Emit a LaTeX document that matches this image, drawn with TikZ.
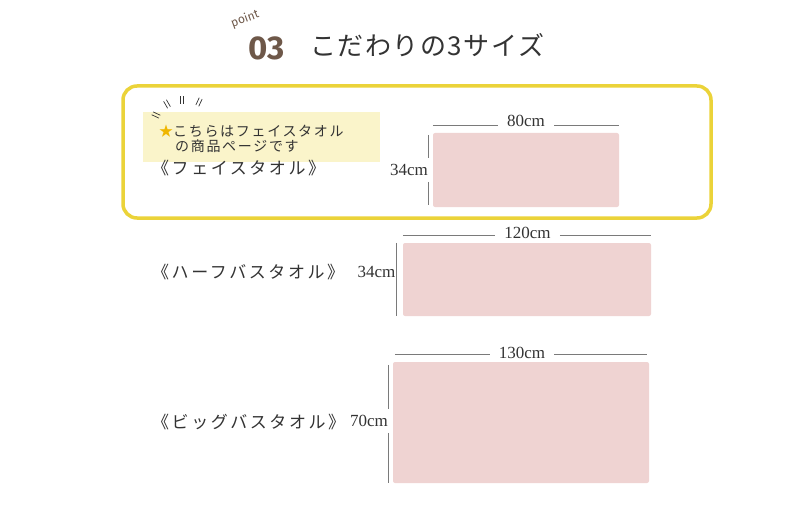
\documentclass[tikz,border=0pt]{standalone}
\usepackage{fontspec}
\setmainfont{Liberation Serif}
\newfontfamily\jpfont[LetterSpace=15]{Noto Sans CJK JP}
\newfontfamily\jpnote[LetterSpace=12]{Noto Sans CJK JP}
\newfontfamily\titlefont[LetterSpace=6]{Noto Sans CJK JP}
\newfontfamily\numfont{Fira Sans}
\usetikzlibrary{positioning}

\definecolor{ptbrown}{HTML}{6E5849}
\definecolor{frameyellow}{HTML}{EBD339}
\definecolor{notebg}{HTML}{FAF4CA}
\definecolor{towelpink}{HTML}{EFD3D2}
\definecolor{stargold}{HTML}{EFB600}
\definecolor{inkgray}{HTML}{333333}
\definecolor{dimgray}{HTML}{7A7A7A}

\tikzset{
  towel/.style={fill=towelpink, rounded corners=2pt, inner sep=0pt},
  rowname/.style={font=\jpfont\fontsize{17}{19}\selectfont, text=inkgray, anchor=west, inner sep=0pt},
  notetext/.style={font=\jpnote\fontsize{14}{16}\selectfont, text=inkgray, anchor=west, inner sep=0pt},
  widthtext/.style={font=\fontsize{17}{18}\selectfont, text=inkgray, inner xsep=9pt, inner ysep=0pt},
  heighttext/.style={font=\fontsize{17}{18}\selectfont, text=inkgray, anchor=east, inner xsep=0pt, inner ysep=6pt},
  dimline/.style={draw=dimgray, line width=0.6pt},
  tickline/.style={draw=inkgray, line width=0.7pt},
}

\begin{document}
\begin{tikzpicture}[x=1pt,y=-1pt]
  \useasboundingbox (0,0) rectangle (801,516);

  % title
  \node[font=\numfont\fontsize{12}{14}\selectfont, text=ptbrown, rotate=20, inner sep=0pt] (pointword) at (245,19) {point};
  \node[font=\numfont\bfseries\fontsize{33}{36}\selectfont, text=ptbrown, inner sep=0pt] (num) at (266.5,48.5) {03};
  \node[font=\titlefont\fontsize{26}{30}\selectfont, text=inkgray, anchor=west, inner sep=0pt] (title) at (310,45) {こだわりの3サイズ};

  % face towel frame and note
  \node[draw=frameyellow, line width=3.5pt, rounded corners=14pt, minimum width=588pt, minimum height=132pt] (faceframe) at (417,152) {};
  \node[fill=notebg, inner sep=0pt, minimum width=237pt, minimum height=50pt] (note) at (261.5,137) {};
  \node[notetext] (notetop) at (159,131) {\textcolor{stargold}{★}こちらはフェイスタオル};
  \node[notetext] (notebottom) at (175,146) {の商品ページです};
  \foreach \cx/\cy/\ang in {156/115/-25, 167/104/-60, 182/100/90, 199/102/65}
    \draw[tickline, shift={(\cx,\cy)}, rotate=\ang] (-4,-1.6) -- (4,-1.6) (-4,1.6) -- (4,1.6);

  % towels
  \node[towel, minimum width=186pt, minimum height=74pt] (face) at (526,170) {};
  \node[towel, minimum width=248pt, minimum height=73pt] (half) at (527,279.5) {};
  \node[towel, minimum width=256pt, minimum height=121pt] (big) at (521,422.5) {};

  % names
  \node[rowname] (facename) at (152,168) {《フェイスタオル》};
  \node[rowname] (halfname) at (152,272) {《ハーフバスタオル》};
  \node[rowname] (bigname) at (152,422) {《ビッグバスタオル》};

  % widths
  \node[widthtext] (facew) at (526,121) {80cm};
  \node[widthtext] (halfw) at (527.5,232.5) {120cm};
  \node[widthtext] (bigw) at (522,352.5) {130cm};
  \coordinate (facewl) at ([yshift=7pt]face.north west);
  \coordinate (facewr) at ([yshift=7pt]face.north east);
  \coordinate (halfwl) at ([yshift=8pt]half.north west);
  \coordinate (halfwr) at ([yshift=8pt]half.north east);
  \coordinate (bigwl) at ([shift={(2pt,8pt)}]big.north west);
  \coordinate (bigwr) at ([shift={(-2pt,8pt)}]big.north east);
  \draw[dimline] (facewl) -- (facewl -| facew.west) (facew.east |- facewr) -- (facewr);
  \draw[dimline] (halfwl) -- (halfwl -| halfw.west) (halfw.east |- halfwr) -- (halfwr);
  \draw[dimline] (bigwl) -- (bigwl -| bigw.west) (bigw.east |- bigwr) -- (bigwr);

  % heights
  \node[heighttext] (faceh) at (428,170) {34cm};
  \node[heighttext] (halfh) at (395.5,272) {34cm};
  \node[heighttext] (bigh) at (388,421) {70cm};
  \coordinate (facehl) at ([xshift=-5pt]face.north west);
  \coordinate (facehb) at ([xshift=-5pt]face.south west);
  \coordinate (bighl) at ([xshift=-5pt]big.north west);
  \coordinate (bighb) at ([xshift=-5pt]big.south west);
  \draw[dimline] ([yshift=-2pt]facehl) -- (facehl |- faceh.north) (facehl |- faceh.south) -- ([yshift=2pt]facehb);
  \draw[dimline] ([xshift=-7pt]half.north west) -- ([xshift=-7pt]half.south west);
  \draw[dimline] ([yshift=-3pt]bighl) -- (bighl |- bigh.north) (bighl |- bigh.south) -- (bighb);
\end{tikzpicture}
\end{document}
